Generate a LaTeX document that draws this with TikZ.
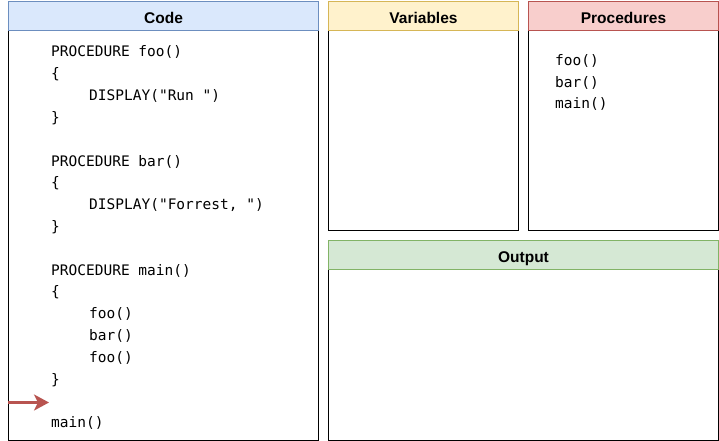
\documentclass[tikz,border=0pt]{standalone}
\usepackage{fontspec}
\setmainfont{Liberation Sans}
\newfontfamily\codefont{DejaVu Sans Mono}
\usetikzlibrary{arrows.meta}
\definecolor{codefill}{HTML}{DAE8FC}
\definecolor{codeline}{HTML}{6C8EBF}
\definecolor{varfill}{HTML}{FFF2CC}
\definecolor{varline}{HTML}{D6B656}
\definecolor{procfill}{HTML}{F8CECC}
\definecolor{procline}{HTML}{B85450}
\definecolor{outfill}{HTML}{D5E8D4}
\definecolor{outline}{HTML}{82B366}
\tikzset{
  box/.style={draw=black, line width=1pt, fill=white, inner sep=0pt, anchor=north west},
  head/.style={line width=1pt, inner sep=0pt, anchor=north west, minimum height=29pt,
    text height=15.4pt, text depth=0pt,
    font=\fontsize{15.5pt}{15.5pt}\selectfont\bfseries},
  codetxt/.style={anchor=base west, inner sep=0pt, font=\codefont\fontsize{14.5pt}{14.5pt}\selectfont},
  pointer/.style={draw=procline, line width=3pt, -{Stealth[length=15pt,width=16pt,inset=4pt]}}
}
\begin{document}
\begin{tikzpicture}[x=1pt,y=-1pt]
\useasboundingbox (0,0) rectangle (719,441);
% boxes
\node[box, minimum width=310pt, minimum height=410pt] (codebody) at (8,30) {};
\node[head, draw=codeline, fill=codefill, minimum width=310pt] (codehead) at (8,1) {Code};
\node[box, minimum width=190pt, minimum height=200pt] (varbody) at (328,30) {};
\node[head, draw=varline, fill=varfill, minimum width=190pt] (varhead) at (328,1) {Variables};
\node[box, minimum width=190pt, minimum height=200pt] (procbody) at (528,30) {};
\node[head, draw=procline, fill=procfill, minimum width=190pt] (prochead) at (528,1) {Procedures};
\node[box, minimum width=390pt, minimum height=171pt] (outbody) at (328,269) {};
\node[head, draw=outline, fill=outfill, minimum width=390pt] (outhead) at (328,240) {Output};
% code lines
\foreach \xx/\t [count=\k] in {
  51/{PROCEDURE foo()},
  51/{\{},
  89/{DISPLAY("Run ")},
  51/{\}},
  51/{},
  51/{PROCEDURE bar()},
  51/{\{},
  89/{DISPLAY("Forrest, ")},
  51/{\}},
  51/{},
  51/{PROCEDURE main()},
  51/{\{},
  89/{foo()},
  89/{bar()},
  89/{foo()},
  51/{\}},
  51/{},
  51/{main()}}
  \node[codetxt] (line\k) at (\xx,{57+21.8*(\k-1)}) {\strut\obeyspaces\t};
% procedures list
\node[codetxt] (pfoo) at (555,66) {foo()};
\node[codetxt] (pbar) at (555,87.5) {bar()};
\node[codetxt] (pmain) at (555,109) {main()};
% pointer
\coordinate (ptrstart) at (8,402.5);
\coordinate (ptrend) at (49,402.5);
\draw[pointer] (ptrstart) -- (ptrend);
\end{tikzpicture}
\end{document}
